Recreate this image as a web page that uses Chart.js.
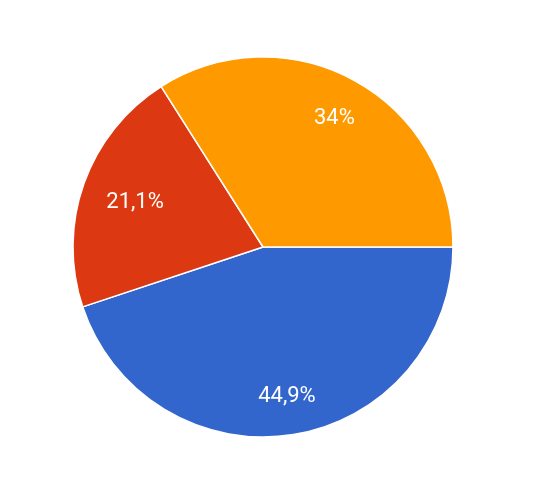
<!DOCTYPE html>
<html>
<head>
<meta charset="utf-8">
<script src="https://cdn.jsdelivr.net/npm/chart.js@4/dist/chart.umd.min.js"></script>
<style>
  html, body { margin: 0; padding: 0; background: #ffffff; }
  #wrap { position: relative; width: 548px; height: 492px; }
</style>
</head>
<body>
<div id="wrap"><canvas id="c" width="548" height="492"></canvas></div>
<script>
const categories = ['Option A', 'Option B', 'Option C'];
const values = [44.9, 21.1, 34];
const valueLabels = ['44,9%', '21,1%', '34%'];
const colors = ['#3366cc', '#dc3912', '#ff9900'];

const sliceLabels = {
  id: 'sliceLabels',
  afterDatasetsDraw(chart, args, opts) {
    const ctx = chart.ctx;
    const meta = chart.getDatasetMeta(0);
    ctx.save();
    ctx.fillStyle = '#ffffff';
    ctx.font = opts.font;
    ctx.textAlign = 'center';
    ctx.textBaseline = 'middle';
    meta.data.forEach((arc, i) => {
      const p = arc.getProps(['x', 'y', 'startAngle', 'endAngle', 'outerRadius'], true);
      const mid = (p.startAngle + p.endAngle) / 2;
      const r = p.outerRadius * opts.radiusFactor[i];
      ctx.fillText(valueLabels[i], p.x + Math.cos(mid) * r, p.y + Math.sin(mid) * r + opts.dy);
    });
    ctx.restore();
  }
};

new Chart(document.getElementById('c'), {
  type: 'pie',
  data: {
    labels: categories,
    datasets: [{
      data: values,
      backgroundColor: colors,
      borderColor: '#ffffff',
      borderWidth: 1.5,
      hoverOffset: 0
    }]
  },
  options: {
    responsive: false,
    animation: false,
    rotation: 90,
    radius: 190,
    layout: { padding: { left: 72, right: 94, top: 56, bottom: 54 } },
    plugins: {
      legend: { display: false },
      tooltip: { enabled: false },
      sliceLabels: { font: '22px Roboto', radiusFactor: [0.79, 0.715, 0.78], dy: 1.5 }
    }
  },
  plugins: [sliceLabels]
});
</script>
</body>
</html>
